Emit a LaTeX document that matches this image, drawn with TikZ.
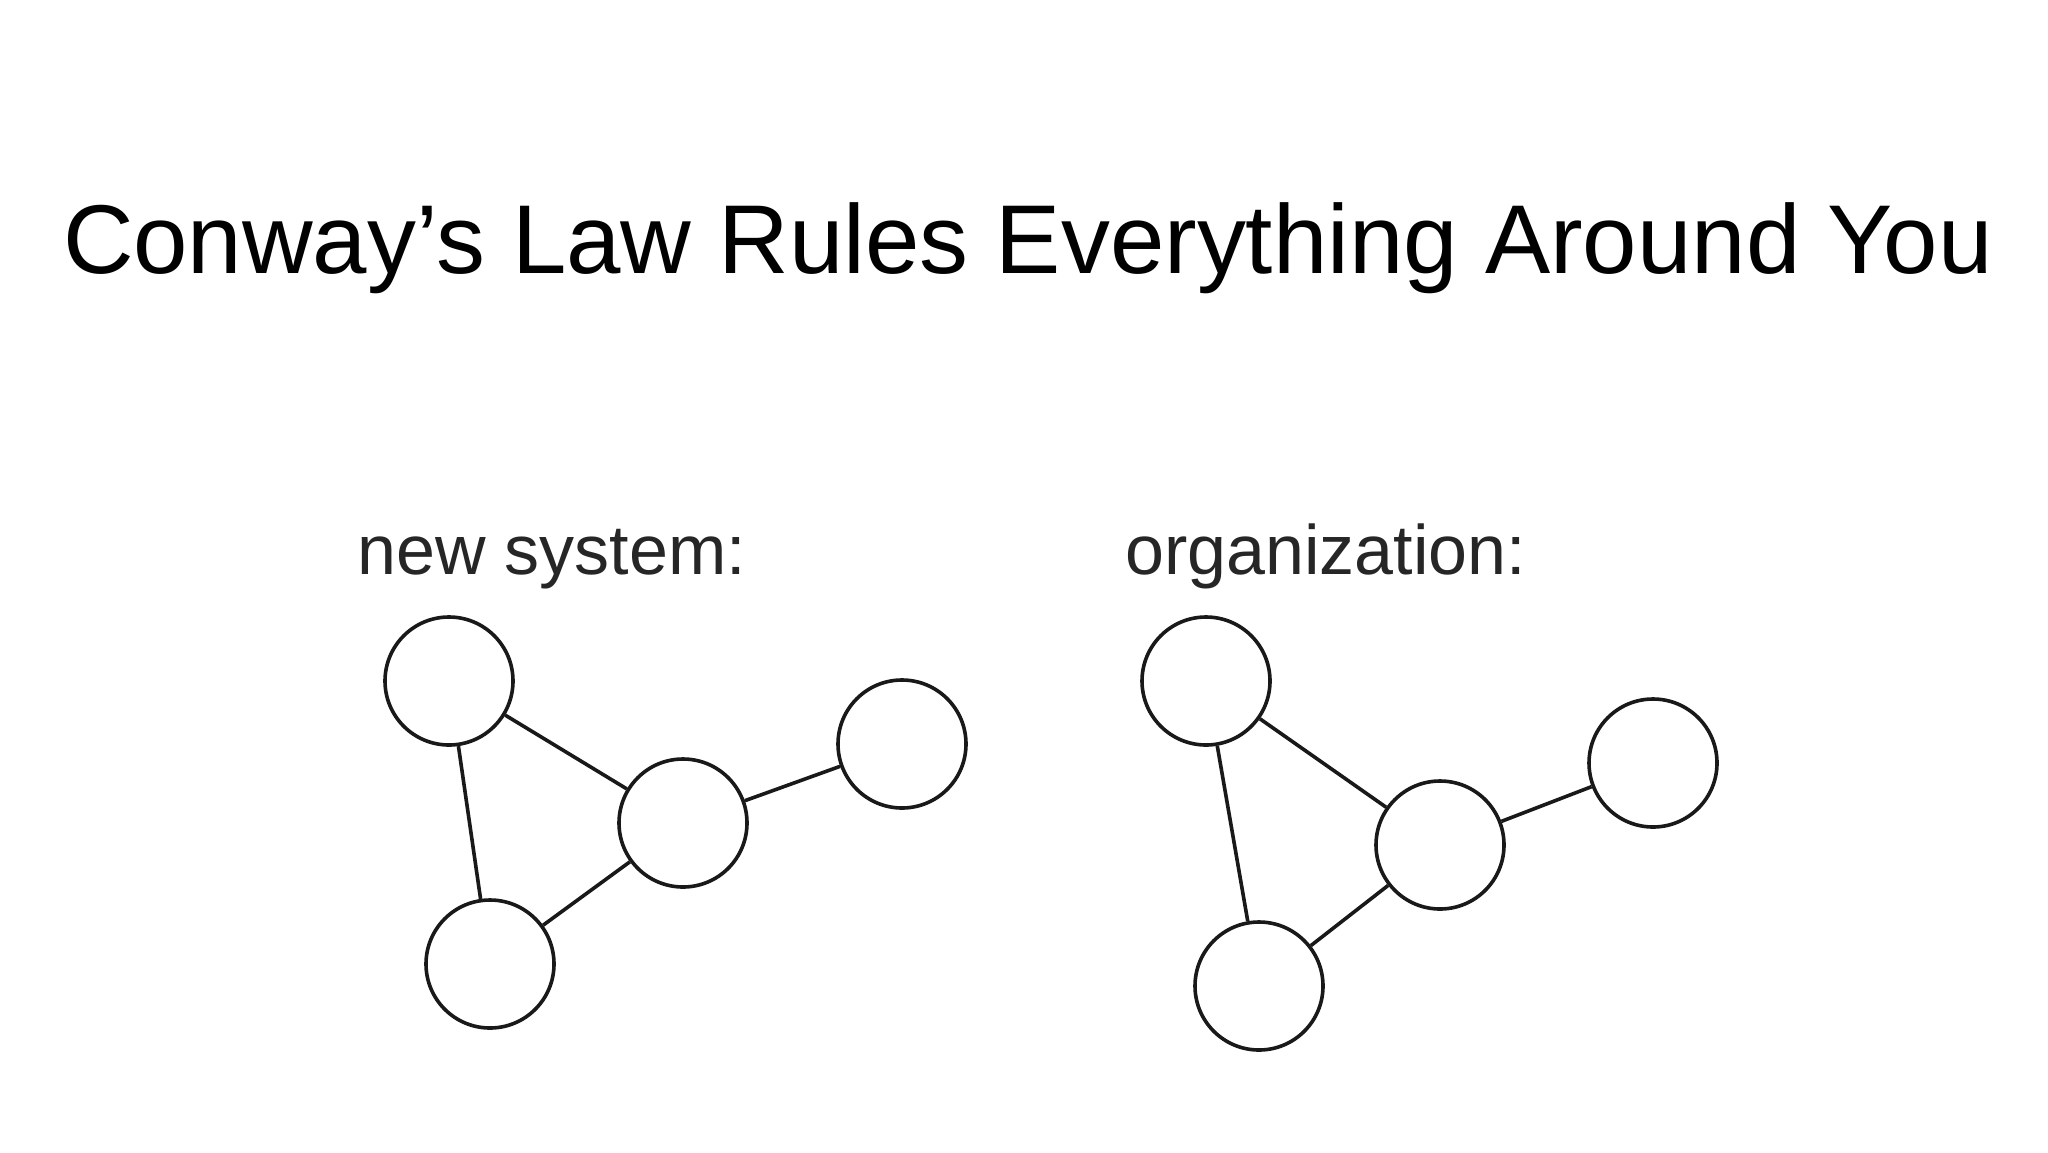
\documentclass[tikz,border=0pt]{standalone}
\usepackage{fontspec}
\setmainfont{Liberation Sans}
\usepackage{graphicx}
\begin{document}
\begin{tikzpicture}[x=1pt,y=-1pt,
  vtx/.style={circle,draw=black!90,line width=3.6pt,minimum size=128pt,inner sep=0pt},
  edge/.style={draw=black!90,line width=3.6pt},
  lbl/.style={anchor=base west,inner sep=0pt,text=black!85,font=\fontsize{70}{80}\selectfont}]
\useasboundingbox[fill=white] (0,0) rectangle (2048,1152);
\node[anchor=base,inner sep=0pt] (title) at (1028,273) {\resizebox{1930pt}{!}{\fontsize{100}{110}\selectfont Conway’s Law Rules Everything Around You}};
\node[lbl] (l1) at (357,574) {new system:};
\node[lbl] (l2) at (1125,574) {organization:};
\node[vtx] (a1) at (449,681) {};
\node[vtx] (b1) at (683,823) {};
\node[vtx] (c1) at (902,744) {};
\node[vtx] (d1) at (490,964) {};
\node[vtx] (a2) at (1206,681) {};
\node[vtx] (b2) at (1440,845) {};
\node[vtx] (c2) at (1653,763) {};
\node[vtx] (d2) at (1259,986) {};
\draw[edge] (a1)--(b1) (a1)--(d1) (b1)--(d1) (b1)--(c1);
\draw[edge] (a2)--(b2) (a2)--(d2) (b2)--(d2) (b2)--(c2);
\end{tikzpicture}
\end{document}
